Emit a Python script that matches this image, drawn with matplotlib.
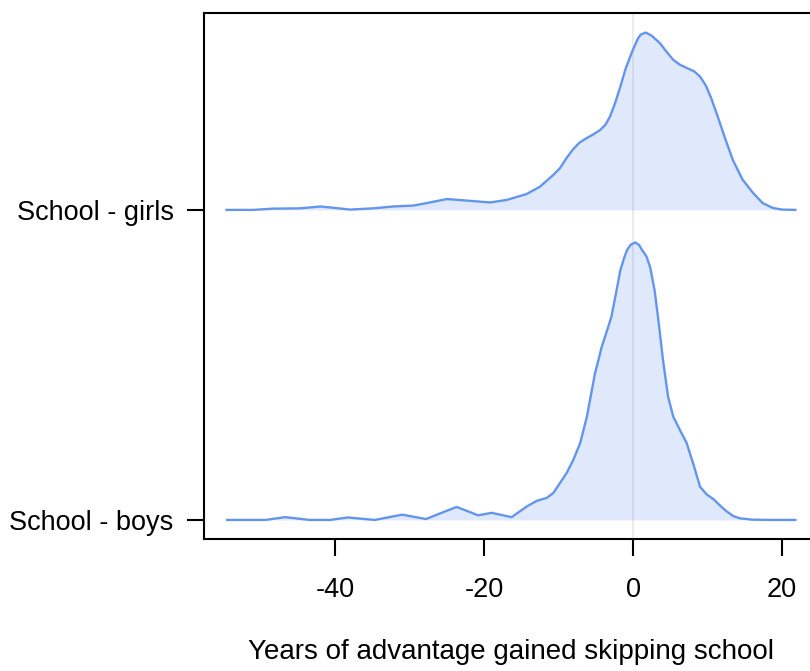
import numpy as np
import matplotlib.pyplot as plt

plt.rcParams['font.family'] = ['Liberation Sans', 'DejaVu Sans']

# group labels (bottom to top) and density traces
groups = ["School - boys", "School - girls"]

girls_x = [-54.6, -51.0, -48.4, -44.7, -42.0, -40.3, -38.0, -34.9, -32.2, -29.5,
           -27.7, -25.0, -22.3, -19.2, -17.0, -14.3, -12.5, -10.7, -9.8, -9.0,
           -8.1, -7.2, -6.2, -5.3, -4.4, -3.7, -3.1, -2.4, -1.7, -1.0,
           -0.2, 0.6, 1.0, 1.7, 2.5, 3.6, 4.5, 5.4, 6.3, 7.2,
           8.2, 9.0, 9.8, 10.5, 11.2, 12.3, 13.4, 14.7, 16.1, 17.4,
           18.8, 20.0, 21.8]
girls_h = [0.0, 0.0, 0.004, 0.005, 0.011, 0.007, 0.001, 0.005, 0.011, 0.014,
           0.022, 0.035, 0.030, 0.024, 0.032, 0.051, 0.075, 0.113, 0.135, 0.165,
           0.194, 0.217, 0.232, 0.244, 0.258, 0.275, 0.301, 0.345, 0.398, 0.455,
           0.506, 0.550, 0.565, 0.572, 0.562, 0.538, 0.510, 0.484, 0.468, 0.458,
           0.447, 0.430, 0.400, 0.360, 0.313, 0.235, 0.161, 0.098, 0.055, 0.022,
           0.006, 0.001, 0.0]

boys_x = [-54.5, -49.4, -46.7, -43.4, -40.7, -38.3, -34.7, -31.0, -27.8, -23.7,
          -20.8, -19.0, -16.3, -14.3, -12.9, -11.6, -10.7, -8.9, -8.0, -7.1,
          -6.2, -5.6, -5.1, -4.6, -4.2, -3.5, -2.9, -2.3, -1.7, -1.2,
          -0.8, -0.3, 0.3, 0.8, 1.2, 1.8, 2.3, 2.9, 3.4, 4.0,
          4.7, 5.4, 6.3, 7.2, 8.1, 9.0, 9.9, 10.8, 11.7, 12.6,
          13.5, 14.4, 16.0, 18.4, 21.8]
boys_h = [0.0, 0.0, 0.009, 0.0, 0.0, 0.008, 0.0, 0.017, 0.003, 0.042,
          0.015, 0.023, 0.009, 0.043, 0.062, 0.071, 0.087, 0.152, 0.195, 0.248,
          0.333, 0.410, 0.474, 0.520, 0.559, 0.610, 0.656, 0.730, 0.806, 0.845,
          0.871, 0.888, 0.895, 0.887, 0.871, 0.850, 0.815, 0.740, 0.645, 0.520,
          0.398, 0.333, 0.290, 0.248, 0.180, 0.107, 0.082, 0.067, 0.046, 0.027,
          0.012, 0.005, 0.001, 0.0, 0.0]

xticks = [-40, -20, 0, 20]

line_col = '#6495ed'

fig = plt.figure(figsize=(8.1, 6.71), dpi=100)
ax = fig.add_axes([0.252, 0.196, 0.758, 0.7846])

ax.axvline(0, color='#ebebeb', lw=1.5, zorder=0)

for base, (xs, hs) in enumerate([(boys_x, boys_h), (girls_x, girls_h)], start=1):
    xs = np.array(xs)
    ys = base + np.array(hs)
    ax.fill_between(xs, base, ys, color=line_col, alpha=0.2, lw=0, zorder=1)
    ax.plot(xs, ys, color=line_col, lw=1.7, zorder=2, solid_joinstyle='round')

ax.set_xlim(-57.6, 24.85)
ax.set_ylim(0.937, 2.635)
ax.set_xticks(xticks)
ax.set_xticklabels([str(t) for t in xticks])
ax.set_yticks([1, 2])
ax.set_yticklabels(groups)
ax.tick_params(axis='both', length=12, width=1.5, labelsize=19.5, color='black')
ax.tick_params(axis='x', pad=15)
ax.tick_params(axis='y', pad=10)
for sp in ax.spines.values():
    sp.set_linewidth(1.5)
ax.set_xlabel("Years of advantage gained skipping school", fontsize=20, labelpad=26)

fig.savefig("out.png", dpi=100)
